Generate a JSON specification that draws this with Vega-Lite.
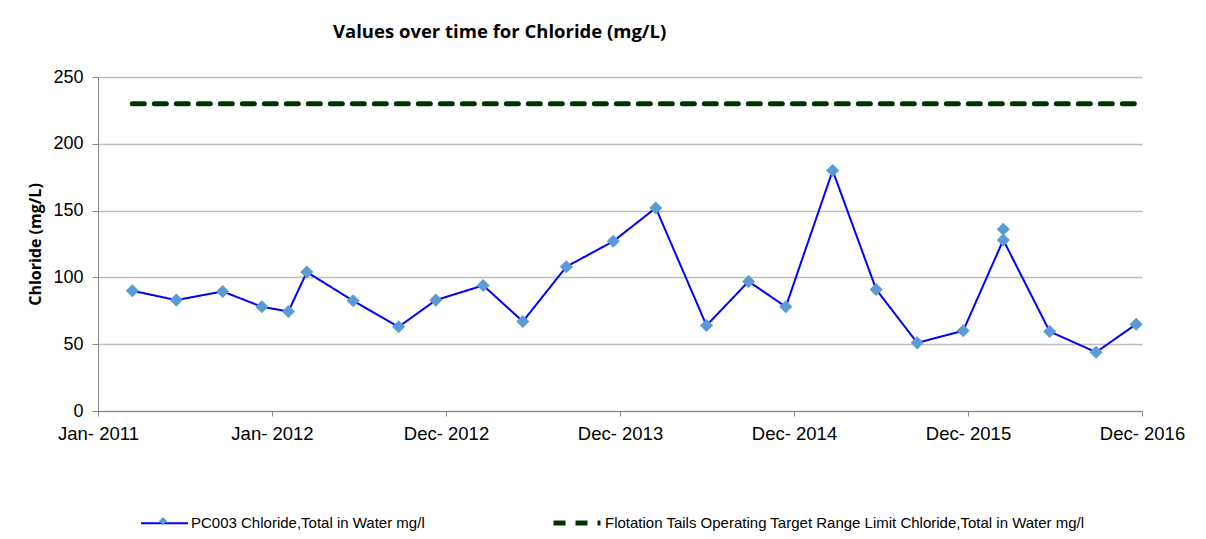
{
  "$schema": "https://vega.github.io/schema/vega-lite/v6.json",
  "width": 1044,
  "height": 334,
  "autosize": {"type": "none"},
  "padding": {"left": 98, "top": 77, "right": 64, "bottom": 128},
  "background": "white",
  "config": {"view": {"stroke": null}},
  "title": {
    "text": "Values over time for Chloride (mg/L)",
    "anchor": "start",
    "frame": "group",
    "dx": 235,
    "offset": 27,
    "font": "Open Sans",
    "fontSize": 18.5,
    "fontWeight": "bold",
    "color": "#000000"
  },
  "data": {
    "values": [
      {"date": "2011-03-20", "value": 90, "series": "PC003 Chloride,Total in Water mg/l"},
      {"date": "2011-06-19", "value": 83, "series": "PC003 Chloride,Total in Water mg/l"},
      {"date": "2011-09-23", "value": 89.5, "series": "PC003 Chloride,Total in Water mg/l"},
      {"date": "2011-12-13", "value": 78, "series": "PC003 Chloride,Total in Water mg/l"},
      {"date": "2012-02-06", "value": 74.5, "series": "PC003 Chloride,Total in Water mg/l"},
      {"date": "2012-03-15", "value": 104, "series": "PC003 Chloride,Total in Water mg/l"},
      {"date": "2012-06-19", "value": 82.5, "series": "PC003 Chloride,Total in Water mg/l"},
      {"date": "2012-09-21", "value": 63, "series": "PC003 Chloride,Total in Water mg/l"},
      {"date": "2012-12-07", "value": 83, "series": "PC003 Chloride,Total in Water mg/l"},
      {"date": "2013-03-15", "value": 94, "series": "PC003 Chloride,Total in Water mg/l"},
      {"date": "2013-06-05", "value": 67, "series": "PC003 Chloride,Total in Water mg/l"},
      {"date": "2013-09-03", "value": 108, "series": "PC003 Chloride,Total in Water mg/l"},
      {"date": "2013-12-09", "value": 127, "series": "PC003 Chloride,Total in Water mg/l"},
      {"date": "2014-03-07", "value": 152, "series": "PC003 Chloride,Total in Water mg/l"},
      {"date": "2014-06-20", "value": 64, "series": "PC003 Chloride,Total in Water mg/l"},
      {"date": "2014-09-15", "value": 97, "series": "PC003 Chloride,Total in Water mg/l"},
      {"date": "2014-12-01", "value": 78, "series": "PC003 Chloride,Total in Water mg/l"},
      {"date": "2015-03-08", "value": 180, "series": "PC003 Chloride,Total in Water mg/l"},
      {"date": "2015-06-06", "value": 91, "series": "PC003 Chloride,Total in Water mg/l"},
      {"date": "2015-08-30", "value": 51, "series": "PC003 Chloride,Total in Water mg/l"},
      {"date": "2015-12-03", "value": 60, "series": "PC003 Chloride,Total in Water mg/l"},
      {"date": "2016-02-24", "value": 136, "series": "PC003 Chloride,Total in Water mg/l", "dup": true},
      {"date": "2016-02-24", "value": 128, "series": "PC003 Chloride,Total in Water mg/l"},
      {"date": "2016-05-30", "value": 59.5, "series": "PC003 Chloride,Total in Water mg/l"},
      {"date": "2016-09-03", "value": 44, "series": "PC003 Chloride,Total in Water mg/l"},
      {"date": "2016-11-25", "value": 65, "series": "PC003 Chloride,Total in Water mg/l"},
      {"date": "2011-03-20", "value": 230, "series": "Flotation Tails Operating Target Range Limit Chloride,Total in Water mg/l"},
      {"date": "2016-11-25", "value": 230, "series": "Flotation Tails Operating Target Range Limit Chloride,Total in Water mg/l"}
    ]
  },
  "encoding": {
    "x": {
      "field": "date",
      "type": "temporal",
      "scale": {
        "type": "utc",
        "domain": [
          {"year": 2011, "month": 1, "date": 8, "utc": true},
          {"year": 2016, "month": 12, "date": 7, "utc": true}
        ]
      },
      "axis": {
        "title": null,
        "values": [
          {"year": 2011, "month": 1, "date": 8, "utc": true},
          {"year": 2012, "month": 1, "date": 3, "utc": true},
          {"year": 2012, "month": 12, "date": 28, "utc": true},
          {"year": 2013, "month": 12, "date": 23, "utc": true},
          {"year": 2014, "month": 12, "date": 18, "utc": true},
          {"year": 2015, "month": 12, "date": 13, "utc": true},
          {"year": 2016, "month": 12, "date": 7, "utc": true}
        ],
        "labelExpr": "utcFormat(datum.value, '%b- %Y')",
        "grid": false,
        "domainColor": "#868686",
        "tickColor": "#868686",
        "tickSize": 5,
        "labelFont": "Liberation Sans",
        "labelFontSize": 18.5,
        "labelColor": "#000000",
        "labelPadding": 8,
        "labelFlush": false,
        "labelOverlap": false
      }
    },
    "y": {
      "field": "value",
      "type": "quantitative",
      "scale": {"domain": [0, 250], "nice": false},
      "axis": {
        "title": "Chloride (mg/L)",
        "titleFont": "Open Sans",
        "titleFontSize": 16,
        "titleFontWeight": "bold",
        "titleColor": "#000000",
        "titlePadding": 9,
        "values": [0, 50, 100, 150, 200, 250],
        "grid": true,
        "gridColor": "#BDBDBD",
        "gridWidth": 1.3,
        "domainColor": "#868686",
        "tickColor": "#868686",
        "tickSize": 6,
        "labelFont": "Liberation Sans",
        "labelFontSize": 18,
        "labelColor": "#000000",
        "labelPadding": 9
      }
    }
  },
  "layer": [
    {
      "transform": [{"filter": "datum.dup !== true"}],
      "mark": {"type": "line", "strokeCap": "round"},
      "encoding": {
        "color": {
          "field": "series",
          "type": "nominal",
          "scale": {
            "domain": ["PC003 Chloride,Total in Water mg/l", "Flotation Tails Operating Target Range Limit Chloride,Total in Water mg/l"],
            "range": ["#0000FF", "#003300"]
          },
          "legend": {
            "title": null,
            "orient": "none",
            "legendX": 42,
            "legendY": 420,
            "direction": "horizontal",
            "symbolType": "stroke",
            "symbolSize": 2209,
            "labelFont": "Liberation Sans",
            "labelFontSize": 15,
            "labelColor": "#000000",
            "labelOffset": 2,
            "columnPadding": 118,
            "padding": 0,
            "labelLimit": 700
          }
        },
        "strokeDash": {
          "field": "series",
          "type": "nominal",
          "scale": {
            "domain": ["PC003 Chloride,Total in Water mg/l", "Flotation Tails Operating Target Range Limit Chloride,Total in Water mg/l"],
            "range": [[1, 0], [12, 10]]
          },
          "legend": null
        },
        "strokeWidth": {
          "field": "series",
          "type": "nominal",
          "scale": {
            "domain": ["PC003 Chloride,Total in Water mg/l", "Flotation Tails Operating Target Range Limit Chloride,Total in Water mg/l"],
            "range": [2, 5]
          },
          "legend": null
        }
      }
    },
    {
      "transform": [{"filter": "datum.series === 'PC003 Chloride,Total in Water mg/l'"}],
      "mark": {"type": "point", "filled": true, "color": "#5B9BD5", "opacity": 1, "size": 170},
      "encoding": {
        "shape": {
          "field": "series",
          "type": "nominal",
          "scale": {"domain": ["PC003 Chloride,Total in Water mg/l"], "range": ["diamond"]},
          "legend": {
            "title": null,
            "orient": "none",
            "legendX": 60,
            "legendY": 439,
            "symbolSize": 64,
            "symbolFillColor": "#5B9BD5",
            "symbolStrokeWidth": 0,
            "labelExpr": "''",
            "padding": 0,
            "zindex": 2
          }
        }
      }
    }
  ]
}
